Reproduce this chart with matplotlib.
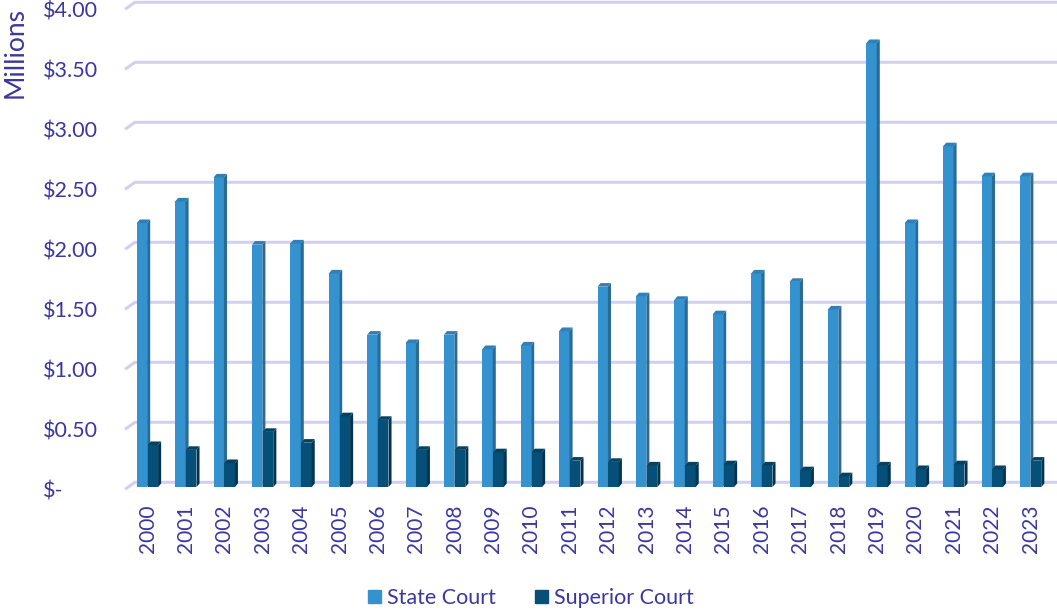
import numpy as np
import matplotlib.pyplot as plt
from matplotlib.patches import Patch

# 数据（单位：百万美元）
years = [str(y) for y in range(2000, 2024)]
state_court = [2.19, 2.37, 2.57, 2.01, 2.02, 1.77, 1.26, 1.19, 1.26, 1.14, 1.17, 1.29,
               1.66, 1.58, 1.55, 1.43, 1.77, 1.70, 1.47, 3.69, 2.19, 2.83, 2.58, 2.58]
superior_court = [0.34, 0.30, 0.19, 0.45, 0.36, 0.58, 0.55, 0.30, 0.30, 0.28, 0.28, 0.21,
                  0.20, 0.17, 0.17, 0.18, 0.17, 0.13, 0.08, 0.17, 0.14, 0.18, 0.14, 0.21]
y_ticks = [0, 0.5, 1.0, 1.5, 2.0, 2.5, 3.0, 3.5, 4.0]
y_labels = ['$-', '$0.50', '$1.00', '$1.50', '$2.00', '$2.50', '$3.00', '$3.50', '$4.00']

text_color = '#3B37A0'
grid_color = '#D3CFEE'
state_cols = ('#3492CE', '#2A6A96', '#2F80B8')      # 正面, 侧面, 顶面
sup_cols = ('#054F78', '#03344F', '#04425F')

plt.rcParams['font.family'] = ['Lato', 'DejaVu Sans']

fig = plt.figure(figsize=(10.57, 6.13), dpi=100)
ax = fig.add_axes([125 / 1057, (613 - 495) / 613, 932 / 1057, 495 / 613])
ax.set_xlim(-0.586, 23.685)
ax.set_ylim(-0.106, 4.019)
for s in ax.spines.values():
    s.set_visible(False)

# 网格线（带3D地板斜角）
x_left, x_bend = -0.586, -0.586 + 10 / 38.4
for v in y_ticks:
    ax.plot([x_left, x_bend, 23.685], [v - 7 / 120, v, v], color=grid_color, lw=2.2,
            zorder=0, solid_capstyle='butt', clip_on=False)

# 3D柱子
w, dx, dy, base = 0.27, 0.08, 0.03, -0.04

def bar3d(x0, v, cols):
    top = v - dy
    ax.bar(x0, top - base, width=w, bottom=base, align='edge', color=cols[0], zorder=2)
    ax.fill([x0 + w, x0 + w + dx, x0 + w + dx, x0 + w],
            [base, base + dy, top + dy, top], color=cols[1], zorder=2, lw=0)
    ax.fill([x0, x0 + dx, x0 + w + dx, x0 + w],
            [top, top + dy, top + dy, top], color=cols[2], zorder=2, lw=0)

for i in range(len(years)):
    bar3d(i - 0.28, state_court[i], state_cols)
    bar3d(i + 0.005, superior_court[i], sup_cols)

# Y轴标签
ytrans = ax.get_yaxis_transform()
for v, lab in zip(y_ticks, y_labels):
    ax.text(-82 / 932, v - 0.075, lab, transform=ytrans, ha='left', va='center',
            fontsize=15.5, color=text_color)

ax.set_xticks(range(len(years)))
ax.set_xticklabels(years, rotation=90, fontsize=15, color=text_color)
ax.set_yticks([])
ax.tick_params(axis='x', length=0, pad=7)

fig.text(15 / 1057, 1 - 53 / 613, 'Millions', rotation=90, ha='center', va='center',
         fontsize=19, color=text_color)

handles = [Patch(color=state_cols[0], label='State Court'),
           Patch(color=sup_cols[0], label='Superior Court')]
leg = fig.legend(handles=handles, loc='center', bbox_to_anchor=(531 / 1057, 1 - 598 / 613),
                 ncol=2, frameon=False, fontsize=15.5, handlelength=0.6, handleheight=0.6,
                 handletextpad=0.3, columnspacing=1.8)
for t in leg.get_texts():
    t.set_color(text_color)

fig.savefig('out.png', dpi=100)
